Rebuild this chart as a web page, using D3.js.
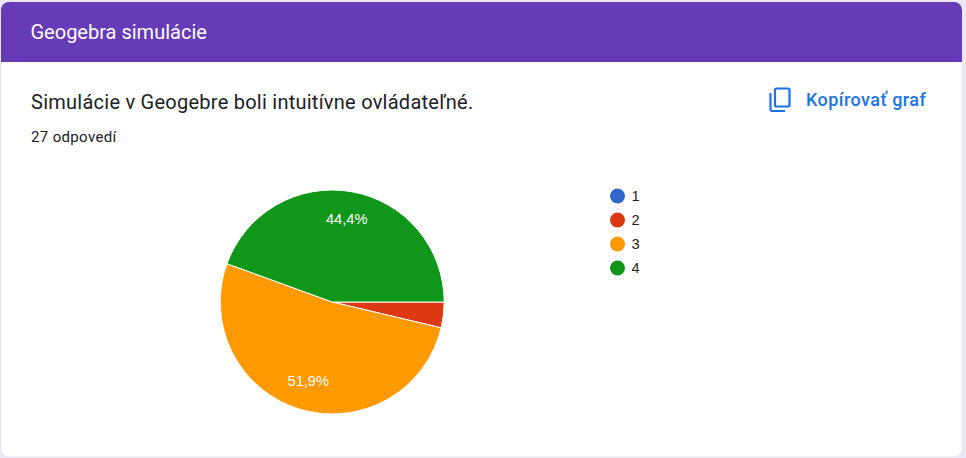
<!DOCTYPE html>
<html>
<head>
<meta charset="utf-8">
<script src="https://d3js.org/d3.v7.min.js"></script>
<style>
  html, body { margin: 0; padding: 0; background: #ece9f6; overflow: hidden; }
  text { font-family: Roboto, sans-serif; }
  .chartText { font-family: "Liberation Sans", Arial, sans-serif; }
</style>
</head>
<body>
<div id="chart"></div>
<script>
// responses per answer, 27 in total
var categories = ["1", "2", "3", "4"];
var responses = [0, 1, 14, 12];
var sliceColors = ["#3366cc", "#dc3912", "#ff9900", "#109618"];
var pieLabels = ["", "", "51,9%", "44,4%"];

var sectionTitle = "Geogebra simulácie";
var questionTitle = "Simulácie v Geogebre boli intuitívne ovládateľné.";
var answerCount = "27 odpovedí";
var copyLabel = "Kopírovať graf";

var svgWidth = 966;
var svgHeight = 458;

var svg = d3.select("#chart")
  .append("svg")
  .attr("width", svgWidth)
  .attr("height", svgHeight)
  .style("display", "block");

// card with the purple header on top
svg.append("rect")
  .attr("x", 1)
  .attr("y", 2)
  .attr("width", 961)
  .attr("height", 455)
  .attr("rx", 8)
  .attr("fill", "#ffffff")
  .attr("stroke", "#dadce0")
  .attr("stroke-width", 0.5);

svg.append("path")
  .attr("d", "M1 62V10a8 8 0 0 1 8-8H954a8 8 0 0 1 8 8V62Z")
  .attr("fill", "#673ab7");

svg.append("text")
  .attr("x", 30.5)
  .attr("y", 38.5)
  .attr("fill", "#ffffff")
  .style("font-size", "20px")
  .text(sectionTitle);

svg.append("text")
  .attr("x", 31)
  .attr("y", 109)
  .attr("fill", "#202124")
  .style("font-size", "20px")
  .style("letter-spacing", "0.25px")
  .text(questionTitle);

svg.append("text")
  .attr("x", 31)
  .attr("y", 142)
  .attr("fill", "#202124")
  .style("font-size", "15px")
  .style("letter-spacing", "0.35px")
  .text(answerCount);

// copy button
var copyIcon = svg.append("g")
  .attr("fill", "none")
  .attr("stroke", "#1a73e8")
  .attr("stroke-width", 2.2);

copyIcon.append("rect")
  .attr("x", 775)
  .attr("y", 88.5)
  .attr("width", 14.5)
  .attr("height", 18)
  .attr("rx", 1.5);

copyIcon.append("path")
  .attr("d", "M770.5 93V109a2 2 0 0 0 2 2H785");

svg.append("text")
  .attr("x", 806)
  .attr("y", 105.5)
  .attr("fill", "#1a73e8")
  .style("font-size", "18px")
  .style("font-weight", 500)
  .style("letter-spacing", "0.45px")
  .text(copyLabel);

// pie, first slice starts at 3 o'clock like in the original
var radius = 112;

var pie = d3.pie()
  .sort(null)
  .startAngle(Math.PI / 2)
  .endAngle(Math.PI / 2 + 2 * Math.PI)
  .value(d => d);

var arc = d3.arc()
  .innerRadius(0)
  .outerRadius(radius);

var labelArc = d3.arc()
  .innerRadius(radius * 0.745)
  .outerRadius(radius * 0.745);

var colorScale = d3.scaleOrdinal()
  .domain(categories)
  .range(sliceColors);

var pieGroup = svg.append("g")
  .attr("transform", "translate(332.2, 302)");

var arcs = pie(responses);

pieGroup.selectAll("path")
  .data(arcs)
  .enter()
  .append("path")
  .filter(d => d.value > 0)
  .attr("d", arc)
  .attr("fill", (d, i) => colorScale(categories[d.index]))
  .attr("stroke", "#ffffff")
  .attr("stroke-width", 1);

pieGroup.selectAll("text")
  .data(arcs.filter(d => pieLabels[d.index] !== ""))
  .enter()
  .append("text")
  .attr("class", "chartText")
  .attr("x", d => labelArc.centroid(d)[0])
  .attr("y", d => labelArc.centroid(d)[1])
  .attr("text-anchor", "middle")
  .attr("dy", "0.28em")
  .attr("fill", "#ffffff")
  .style("font-size", "14.67px")
  .text(d => pieLabels[d.index]);

// legend
var legendScale = d3.scalePoint()
  .domain(categories)
  .range([196, 268]);

var legend = svg.selectAll(".legendItem")
  .data(categories)
  .enter()
  .append("g")
  .attr("class", "legendItem")
  .attr("transform", d => `translate(617.5, ${legendScale(d)})`);

legend.append("circle")
  .attr("r", 7.5)
  .attr("fill", d => colorScale(d));

legend.append("text")
  .attr("class", "chartText")
  .attr("x", 14)
  .attr("dy", "0.36em")
  .attr("fill", "#222222")
  .style("font-size", "14.67px")
  .text(d => d);
</script>
</body>
</html>
